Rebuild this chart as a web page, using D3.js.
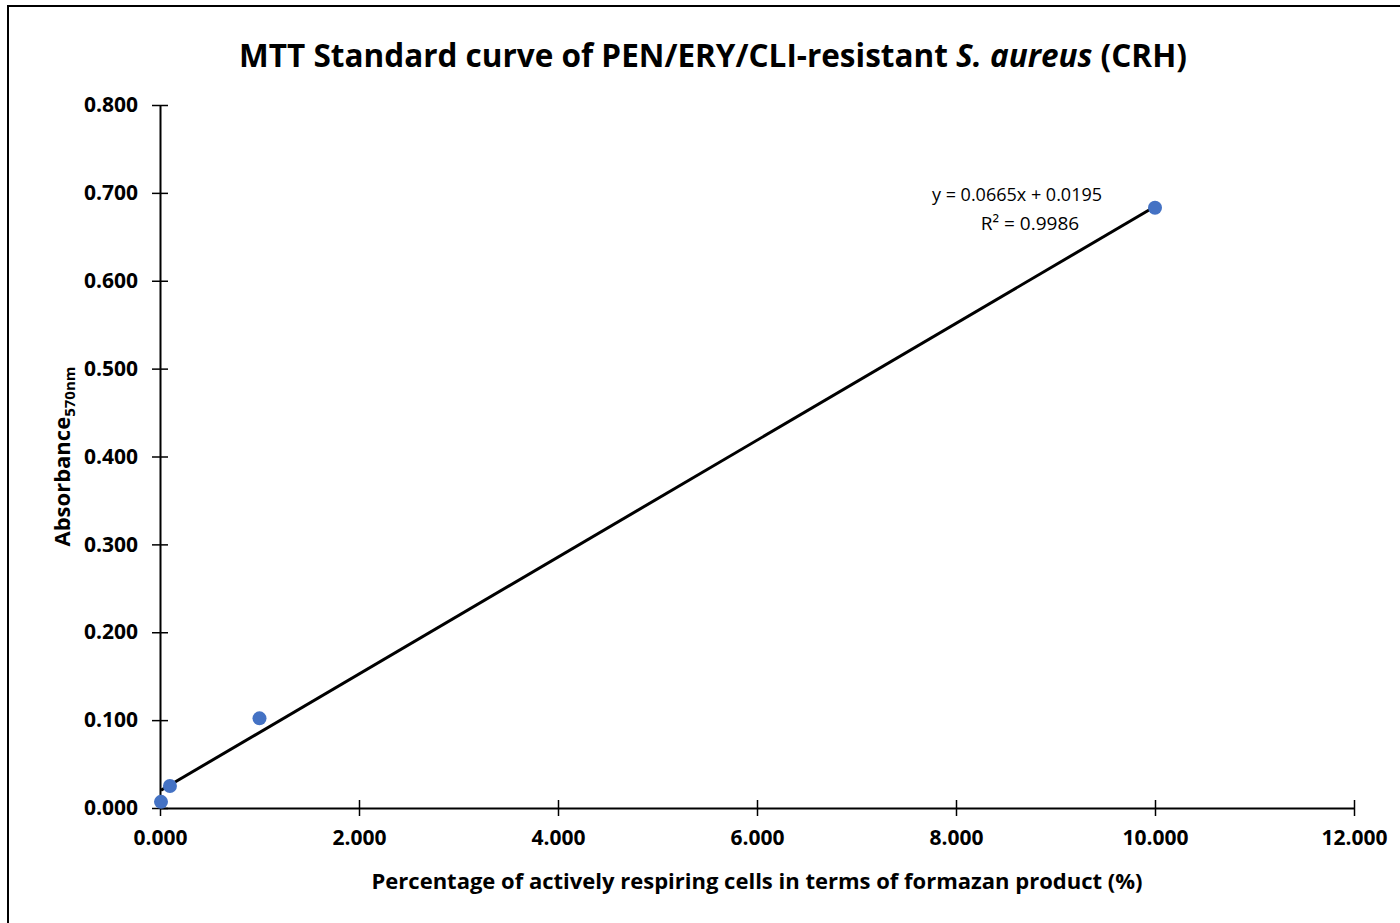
<!DOCTYPE html>
<html>
<head>
<meta charset="utf-8">
<script src="https://cdn.jsdelivr.net/npm/d3@7"></script>
<style>
  body { margin: 0; background: #fff; }
  svg text { font-family: "Open Sans", sans-serif; }
</style>
</head>
<body>
<svg id="chart" width="1400" height="923"></svg>
<script>
// data
var pct = [0.01, 0.1, 1, 10];
var absorb = [0.007, 0.025, 0.102, 0.683];
var slope = 0.0665, intercept = 0.0195;
var xTicks = [0, 2, 4, 6, 8, 10, 12];
var yTicks = [0, 0.1, 0.2, 0.3, 0.4, 0.5, 0.6, 0.7, 0.8];

var svg = d3.select('#chart');
var width = 1400, height = 923;
var margin_left = 160, margin_right = 46, margin_top = 105, margin_bottom = 115;

var x = d3.scaleLinear().domain([0, 12]).range([margin_left, width - margin_right]);
var y = d3.scaleLinear().domain([0, 0.8]).range([height - margin_bottom, margin_top]);

// chart frame, only the top and left edges show in the crop
svg.append('path')
    .attr('d', 'M8,' + height + 'V6H' + width)
    .attr('fill', 'none').attr('stroke', '#000').attr('stroke-width', 2);

svg.append('text')
    .attr('x', 713).attr('y', 67)
    .attr('text-anchor', 'middle')
    .attr('font-size', 31.5).attr('font-weight', 'bold')
    .call(function(t) {
        t.append('tspan').text('MTT Standard curve of PEN/ERY/CLI-resistant ');
        t.append('tspan').attr('font-style', 'italic').text('S. aureus');
        t.append('tspan').text(' (CRH)');
    });

var xAxis = d3.axisBottom(x).tickValues(xTicks).tickFormat(d3.format('.3f'))
    .tickSizeInner(8).tickSizeOuter(0);
var yAxis = d3.axisLeft(y).tickValues(yTicks).tickFormat(d3.format('.3f'))
    .tickSizeInner(8).tickSizeOuter(0);

var gx = svg.append('g').attr('transform', 'translate(0,' + y(0) + ')').call(xAxis);
var gy = svg.append('g').attr('transform', 'translate(' + x(0) + ',0)').call(yAxis);

// ticks cross the axis line, like excel
[gx, gy].forEach(function(g) {
    g.select('path.domain').attr('stroke', '#000').attr('stroke-width', 2);
    g.selectAll('.tick line').attr('stroke', '#000').attr('stroke-width', 1.5);
    g.selectAll('.tick text').attr('font-size', 21).attr('font-weight', 'bold')
        .attr('fill', '#000').style('font-family', '"Open Sans", sans-serif');
});
gx.selectAll('.tick line').attr('y1', -8).attr('y2', 8);
gx.selectAll('.tick text').attr('y', 22);
gy.selectAll('.tick line').attr('x1', -8).attr('x2', 8);
gy.selectAll('.tick text').attr('x', -22);

// axis titles
svg.append('text')
    .attr('x', x(6)).attr('y', 889)
    .attr('text-anchor', 'middle')
    .attr('font-size', 22).attr('font-weight', 'bold')
    .text('Percentage of actively respiring cells in terms of formazan product (%)');

svg.append('text')
    .attr('transform', 'translate(70,' + y(0.4) + ') rotate(-90)')
    .attr('text-anchor', 'middle')
    .attr('font-size', 22).attr('font-weight', 'bold')
    .call(function(t) {
        t.append('tspan').text('Absorbance');
        t.append('tspan').attr('font-size', 15).attr('dy', 5).text('570nm');
    });

// trendline over the data range
var xr = d3.extent(pct);
var line_func = d3.line().x(function(d) { return x(d); }).y(function(d) { return y(slope * d + intercept); });
svg.append('path')
    .attr('d', line_func(xr))
    .attr('stroke', '#000').attr('stroke-width', 3).attr('fill', 'none');

svg.selectAll('circle.pt')
    .data(pct)
    .enter().append('circle')
    .attr('class', 'pt')
    .attr('cx', function(d) { return x(d); })
    .attr('cy', function(d, i) { return y(absorb[i]); })
    .attr('r', 7)
    .attr('fill', '#4472C4');

// equation label
svg.append('text')
    .attr('x', 1017).attr('y', 201)
    .attr('text-anchor', 'middle').attr('font-size', 18)
    .text('y = 0.0665x + 0.0195');
svg.append('text')
    .attr('x', 1030).attr('y', 230)
    .attr('text-anchor', 'middle').attr('font-size', 19)
    .text('R² = 0.9986');
</script>
</body>
</html>
